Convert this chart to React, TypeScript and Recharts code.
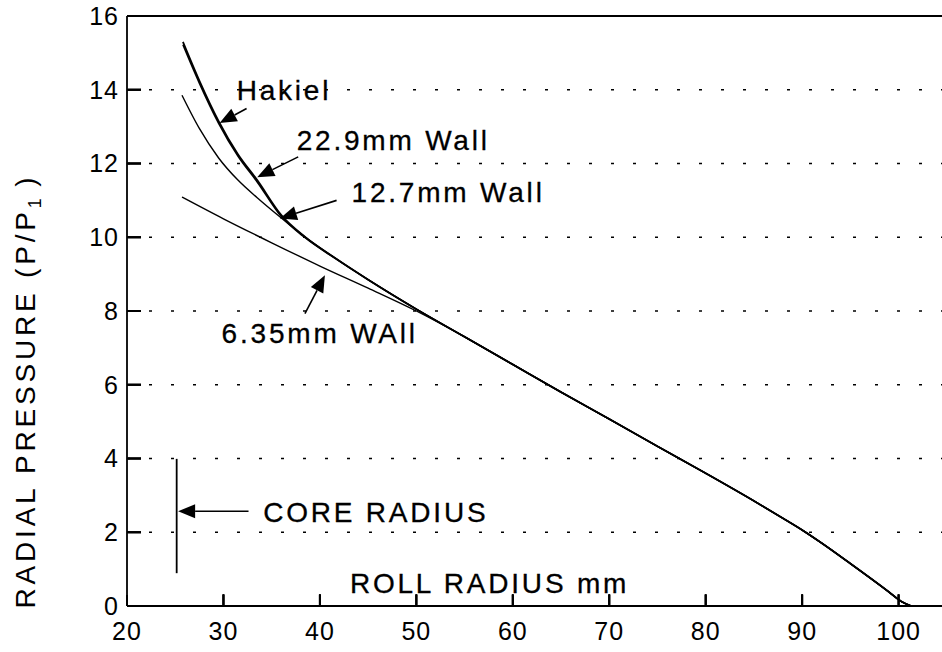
import React from "react";
import {
  LineChart,
  Line,
  XAxis,
  YAxis,
  CartesianGrid,
  ReferenceLine,
  ReferenceDot,
} from "recharts";

// ---- data ----
const xTicks = [20, 30, 40, 50, 60, 70, 80, 90, 100];
const yTicks = [0, 2, 4, 6, 8, 10, 12, 14, 16];

const hakiel = [
  { x: 25.8, y: 15.3 }, { x: 27.5, y: 14.25 }, { x: 29.5, y: 13.15 }, { x: 31.5, y: 12.25 },
  { x: 33.5, y: 11.55 }, { x: 36, y: 10.6 }, { x: 38.5, y: 10.0 }, { x: 41.5, y: 9.45 },
  { x: 45, y: 8.85 }, { x: 50, y: 8.05 }, { x: 55, y: 7.3 }, { x: 60, y: 6.55 },
  { x: 65, y: 5.8 }, { x: 70, y: 5.07 }, { x: 75, y: 4.33 }, { x: 80, y: 3.6 },
  { x: 85, y: 2.85 }, { x: 88, y: 2.38 }, { x: 90, y: 2.06 }, { x: 92, y: 1.71 },
  { x: 95, y: 1.15 }, { x: 99, y: 0.38 }, { x: 100.3, y: 0.12 }, { x: 101.3, y: 0 },
];
const wall229 = [
  { x: 25.8, y: 15.22 }, { x: 27.5, y: 14.18 }, { x: 29.5, y: 13.09 }, { x: 31.5, y: 12.2 },
  { x: 33.5, y: 11.5 }, { x: 36, y: 10.56 }, { x: 38.5, y: 9.98 }, { x: 41.5, y: 9.44 },
  { x: 45, y: 8.85 }, { x: 50, y: 8.05 }, { x: 55, y: 7.3 }, { x: 60, y: 6.55 },
  { x: 65, y: 5.8 }, { x: 70, y: 5.07 }, { x: 75, y: 4.33 }, { x: 80, y: 3.6 },
  { x: 85, y: 2.85 }, { x: 88, y: 2.38 }, { x: 90, y: 2.06 }, { x: 92, y: 1.71 },
  { x: 95, y: 1.15 }, { x: 99, y: 0.38 }, { x: 100.3, y: 0.12 }, { x: 101.3, y: 0 },
];
const wall127 = [
  { x: 25.7, y: 13.85 }, { x: 27.5, y: 12.95 }, { x: 29.5, y: 12.15 }, { x: 31.5, y: 11.55 },
  { x: 33.5, y: 11.07 }, { x: 36, y: 10.52 }, { x: 38.5, y: 10.0 }, { x: 41.5, y: 9.45 },
  { x: 45, y: 8.85 }, { x: 50, y: 8.05 }, { x: 55, y: 7.3 }, { x: 60, y: 6.55 },
  { x: 65, y: 5.8 }, { x: 70, y: 5.07 }, { x: 75, y: 4.33 }, { x: 80, y: 3.6 },
  { x: 85, y: 2.85 }, { x: 88, y: 2.38 }, { x: 90, y: 2.06 }, { x: 92, y: 1.71 },
  { x: 95, y: 1.15 }, { x: 99, y: 0.38 }, { x: 100.3, y: 0.12 }, { x: 101.3, y: 0 },
];
const wall635 = [
  { x: 25.7, y: 11.09 }, { x: 30, y: 10.5 }, { x: 35, y: 9.85 }, { x: 40, y: 9.22 },
  { x: 45, y: 8.62 }, { x: 50, y: 8.0 }, { x: 55, y: 7.3 }, { x: 60, y: 6.55 },
  { x: 65, y: 5.8 }, { x: 70, y: 5.07 }, { x: 75, y: 4.33 }, { x: 80, y: 3.6 },
  { x: 85, y: 2.85 }, { x: 88, y: 2.38 }, { x: 90, y: 2.06 }, { x: 92, y: 1.71 },
  { x: 95, y: 1.15 }, { x: 99, y: 0.38 }, { x: 100.3, y: 0.12 }, { x: 101.3, y: 0 },
];

// annotation labels (text, anchor in data coords)
const labels = [
  { text: "Hakiel", x: 31.37, y: 13.73 },
  { text: "22.9mm Wall", x: 37.59, y: 12.36 },
  { text: "12.7mm Wall", x: 43.28, y: 10.96 },
  { text: "6.35mm WAll", x: 29.81, y: 7.12 },
  { text: "CORE RADIUS", x: 34.12, y: 2.28 },
  { text: "ROLL RADIUS mm", x: 43.11, y: 0.34 },
];
// arrows: tail -> tip
const arrows = [
  { x1: 32.4, y1: 13.49, x2: 29.6, y2: 13.1 },
  { x1: 37.75, y1: 12.18, x2: 33.5, y2: 11.63 },
  { x1: 41.73, y1: 11.0, x2: 35.85, y2: 10.51 },
  { x1: 38.45, y1: 7.93, x2: 40.52, y2: 8.97 },
  { x1: 32.6, y1: 2.57, x2: 25.3, y2: 2.57 },
];
const coreLine = { x: 25.15, y1: 3.99, y2: 0.89 };
// inward tick marks, in data units (start just inside the axes)
const xTickFrom = 0.03;
const xTickTo = 0.32;
const yTickFrom = 20.1;
const yTickTo = 21.45;

const FONT = "'Liberation Sans', Arial, Helvetica, sans-serif";

const ArrowShape = (props: any) => {
  const { x1, y1, x2, y2 } = props;
  const dx = x2 - x1;
  const dy = y2 - y1;
  const len = Math.sqrt(dx * dx + dy * dy) || 1;
  const ux = dx / len;
  const uy = dy / len;
  const L = 17;
  const Wd = 7;
  const bx = x2 - ux * L;
  const by = y2 - uy * L;
  const px = -uy * Wd;
  const py = ux * Wd;
  return (
    <g>
      <line x1={x1} y1={y1} x2={bx} y2={by} stroke="#000" strokeWidth={1.6} />
      <polygon
        points={`${x2},${y2} ${bx + px},${by + py} ${bx - px},${by - py}`}
        fill="#000"
      />
    </g>
  );
};

// tick mark drawn as a short line plus thin filled bar
const TickMark = (props: any) => {
  const { x1, y1, x2, y2 } = props;
  const w = 1.0;
  const vertical = Math.abs(x2 - x1) < Math.abs(y2 - y1);
  const pts = vertical
    ? `${x1 - w},${y1} ${x1 + w},${y1} ${x2 + w},${y2} ${x2 - w},${y2}`
    : `${x1},${y1 - w} ${x1},${y1 + w} ${x2},${y2 + w} ${x2},${y2 - w}`;
  return (
    <g>
      <line x1={x1} y1={y1} x2={x2} y2={y2} stroke="#000" strokeWidth={1.8} />
      <polygon points={pts} fill="#000" />
    </g>
  );
};

const YLabel = () => (
  <text
    x={35}
    y={391}
    transform="rotate(-90, 35, 391)"
    textAnchor="middle"
    fontFamily={FONT}
    fontSize={28}
    letterSpacing={3.8}
    fill="#000"
  >
    RADIAL PRESSURE (P/P
    <tspan fontSize={18} dy={6} letterSpacing={0}>1</tspan>
    <tspan dy={-6}> )</tspan>
  </text>
);

const tickStyle = { fill: "#000", fontSize: 25, fontFamily: FONT, letterSpacing: 1 };

export default function App() {
  return (
    <div style={{ position: "absolute", left: 0, top: 0, background: "#fff" }}>
      <LineChart
        width={942}
        height={652}
        margin={{ top: 16, right: 0, bottom: 0, left: 0 }}
      >
        <CartesianGrid
          vertical={false}
          stroke="#000"
          strokeWidth={1.6}
          strokeDasharray="3 19"
        />
        <XAxis
          type="number"
          dataKey="x"
          domain={[20, 104.5]}
          ticks={xTicks}
          allowDataOverflow
          height={46}
          tickSize={-11}
          tickMargin={27}
          tick={tickStyle}
          axisLine={{ stroke: "#000", strokeWidth: 1.8 }}
          tickLine={{ stroke: "#000", strokeWidth: 2 }}
        />
        <YAxis
          type="number"
          dataKey="y"
          domain={[0, 16]}
          ticks={yTicks}
          allowDataOverflow
          width={127}
          tickSize={-14}
          tickMargin={22}
          tick={tickStyle}
          axisLine={{ stroke: "#000", strokeWidth: 1.8 }}
          tickLine={{ stroke: "#000", strokeWidth: 2 }}
          label={{ content: () => <YLabel /> }}
        />
        <ReferenceLine y={16} stroke="#000" strokeWidth={1.8} ifOverflow="visible" />
        <Line
          data={hakiel}
          dataKey="y"
          type="monotone"
          stroke="#000"
          strokeWidth={1.8}
          dot={false}
          isAnimationActive={false}
        />
        <Line
          data={wall229}
          dataKey="y"
          type="monotone"
          stroke="#000"
          strokeWidth={1.6}
          dot={false}
          isAnimationActive={false}
        />
        <Line
          data={wall127}
          dataKey="y"
          type="monotone"
          stroke="#000"
          strokeWidth={1.4}
          dot={false}
          isAnimationActive={false}
        />
        <Line
          data={wall635}
          dataKey="y"
          type="monotone"
          stroke="#000"
          strokeWidth={1.4}
          dot={false}
          isAnimationActive={false}
        />
        <ReferenceLine
          segment={[
            { x: coreLine.x, y: coreLine.y1 },
            { x: coreLine.x, y: coreLine.y2 },
          ]}
          stroke="#000"
          strokeWidth={1.8}
          ifOverflow="visible"
        />
        {arrows.map((a, i) => (
          <ReferenceLine
            key={"a" + i}
            segment={[
              { x: a.x1, y: a.y1 },
              { x: a.x2, y: a.y2 },
            ]}
            ifOverflow="visible"
            shape={(p: any) => <ArrowShape {...p} />}
          />
        ))}
        {labels.map((l, i) => (
          <ReferenceDot
            key={"l" + i}
            x={l.x}
            y={l.y}
            r={0}
            ifOverflow="visible"
            shape={(p: any) => (
              <text
                x={p.cx}
                y={p.cy}
                textAnchor="start"
                fontFamily={FONT}
                fontSize={28}
                letterSpacing={2.8}
                fill="#000"
                stroke="#000"
                strokeWidth={0.3}
              >
                {l.text}
              </text>
            )}
          />
        ))}
        {xTicks.slice(1).map((t) => (
          <ReferenceLine
            key={"xt" + t}
            segment={[
              { x: t, y: xTickFrom },
              { x: t, y: xTickTo },
            ]}
            ifOverflow="visible"
            shape={(p: any) => <TickMark {...p} />}
          />
        ))}
        {yTicks.slice(1, -1).map((t) => (
          <ReferenceLine
            key={"yt" + t}
            segment={[
              { x: yTickFrom, y: t },
              { x: yTickTo, y: t },
            ]}
            ifOverflow="visible"
            shape={(p: any) => <TickMark {...p} />}
          />
        ))}
      </LineChart>
    </div>
  );
}
